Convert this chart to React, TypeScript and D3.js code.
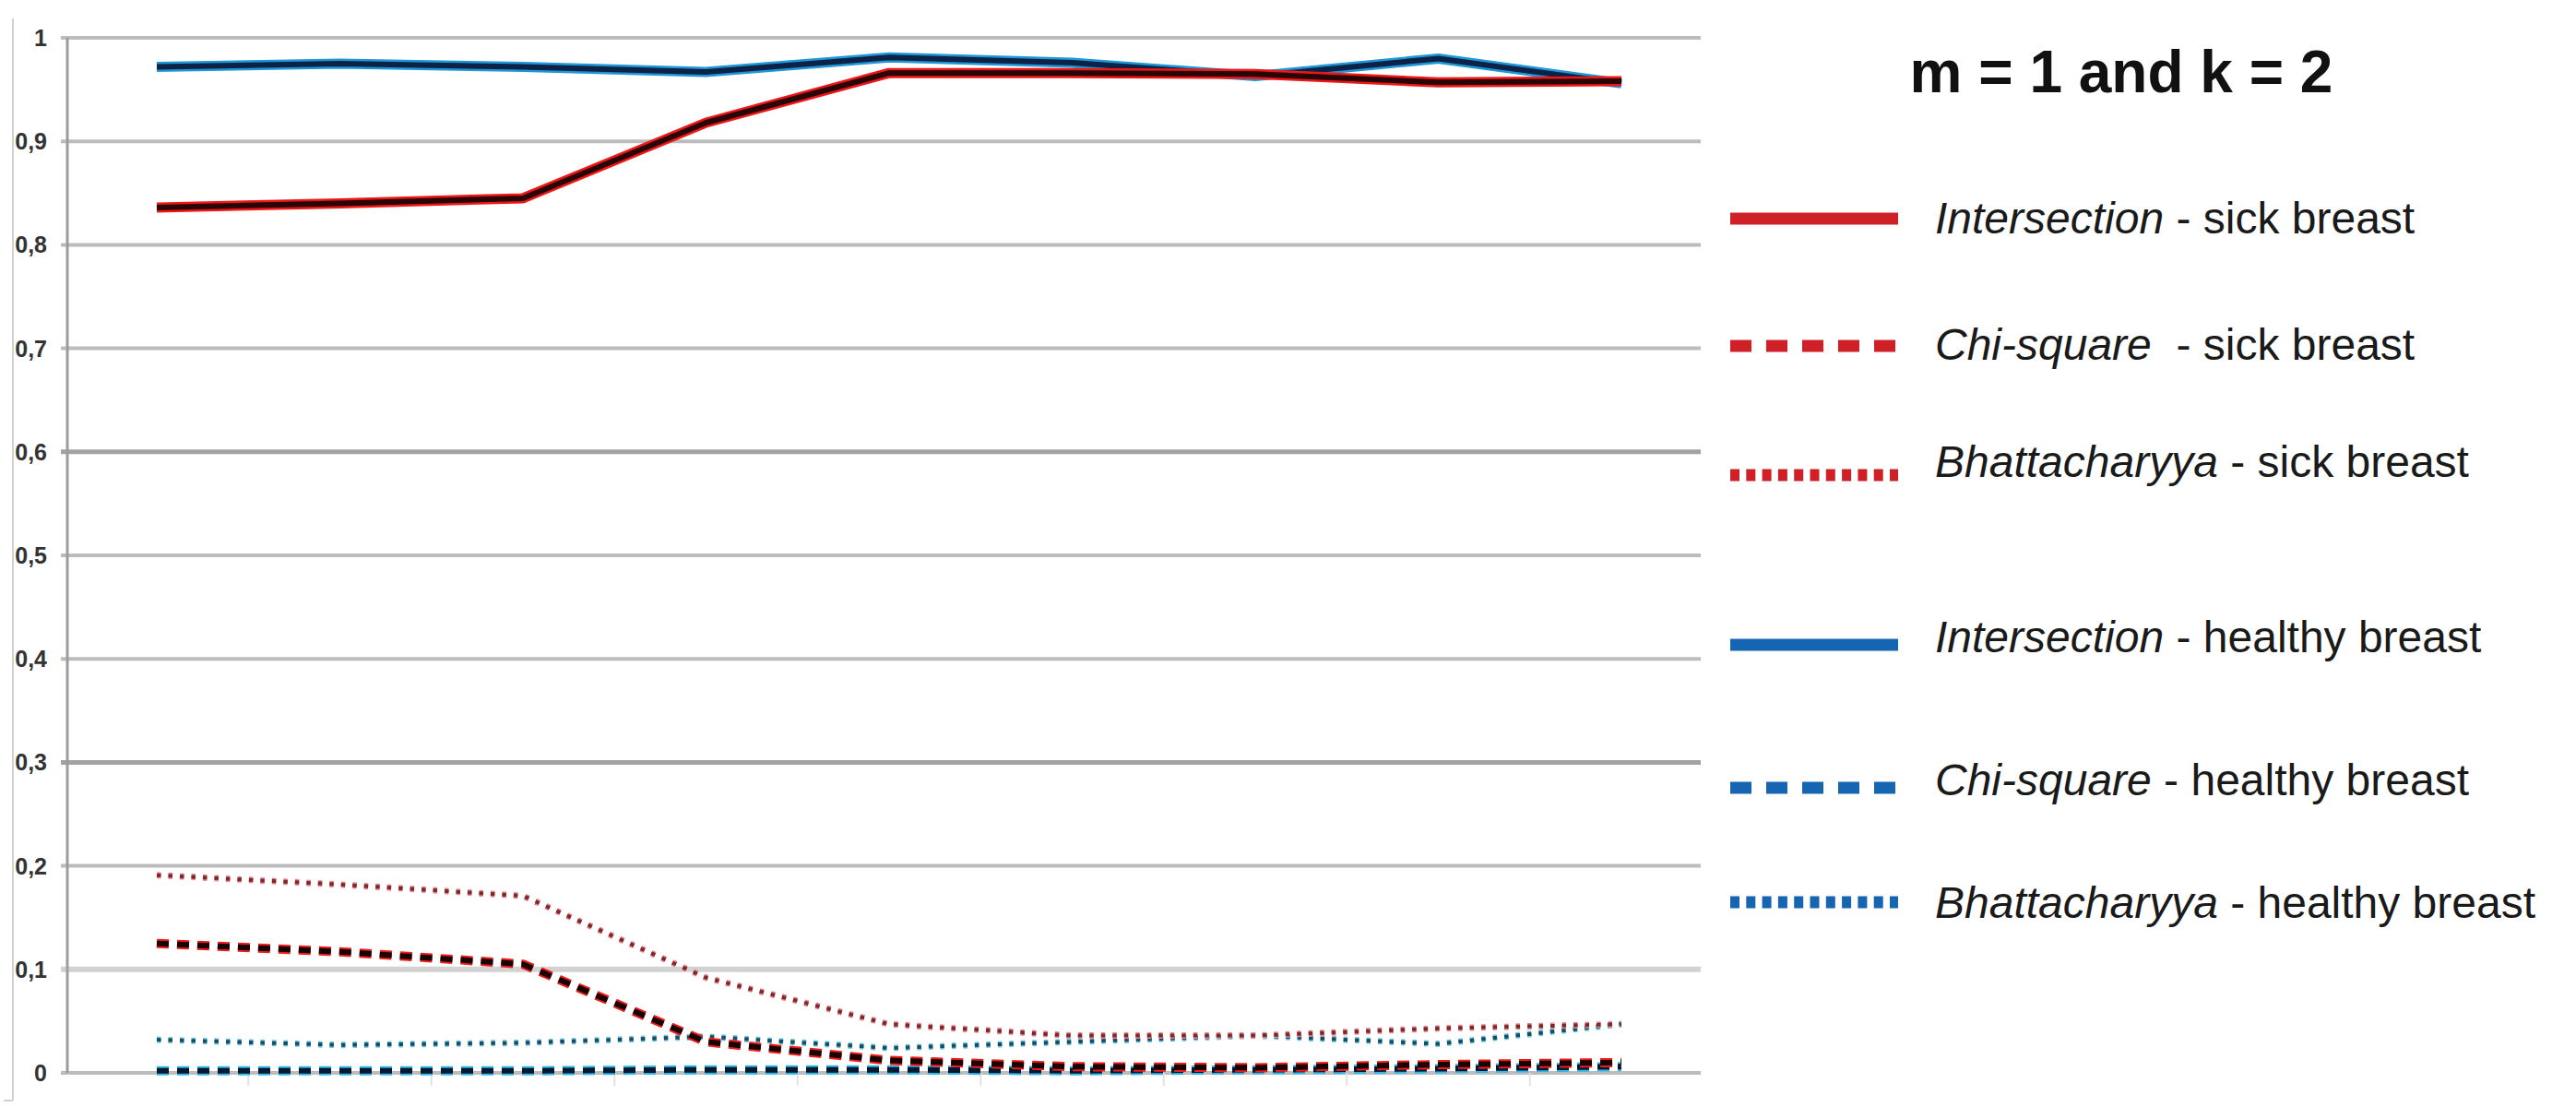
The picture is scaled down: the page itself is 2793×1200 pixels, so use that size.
import React, { useEffect, useRef } from "react";
import * as d3 from "d3";

// x positions (no labels shown on the axis)
const categories = ["1", "2", "3", "4", "5", "6", "7", "8", "9"];

const yTicks = [0, 0.1, 0.2, 0.3, 0.4, 0.5, 0.6, 0.7, 0.8, 0.9, 1];
const yTickLabels = ["0", "0,1", "0,2", "0,3", "0,4", "0,5", "0,6", "0,7", "0,8", "0,9", "1"];

// sick breast
const intersectionSick = [0.836, 0.84, 0.845, 0.918, 0.966, 0.966, 0.965, 0.957, 0.958];
const chiSquareSick = [0.125, 0.117, 0.105, 0.03, 0.012, 0.006, 0.005, 0.008, 0.01];
const bhattacharyyaSick = [0.191, 0.182, 0.171, 0.092, 0.047, 0.036, 0.036, 0.043, 0.047];

// healthy breast
const intersectionHealthy = [0.972, 0.975, 0.972, 0.967, 0.981, 0.976, 0.963, 0.98, 0.956];
const chiSquareHealthy = [0.002, 0.002, 0.002, 0.003, 0.003, 0.002, 0.003, 0.004, 0.006];
const bhattacharyyaHealthy = [0.032, 0.027, 0.029, 0.035, 0.024, 0.03, 0.036, 0.028, 0.047];

const title = "m = 1 and k = 2";
const legendMethods = ["Intersection", "Chi-square", "Bhattacharyya", "Intersection", "Chi-square", "Bhattacharyya"];
const legendSuffixes = [" - sick breast", "  - sick breast", " - sick breast", " - healthy breast", " - healthy breast", " - healthy breast"];

const RED = "#cf2027";
const BLUE = "#1665b3";

const App = () => {
  const ref = useRef<SVGSVGElement>(null);

  useEffect(() => {
    const svg = d3.select(ref.current);
    svg.selectAll("*").remove();

    const x = d3.scalePoint<string>().domain(categories).range([170, 1758]);
    const y = d3.scaleLinear().domain([0, 1]).range([1163, 41]);

    // outer frame edge on the left
    svg.append("line")
      .attr("x1", 14).attr("x2", 14).attr("y1", 20).attr("y2", 1193)
      .attr("stroke", "#d0d0d0").attr("stroke-width", 2);
    svg.append("line")
      .attr("x1", 4).attr("x2", 14).attr("y1", 1193).attr("y2", 1193)
      .attr("stroke", "#d0d0d0").attr("stroke-width", 2);

    // horizontal grid
    svg.append("g")
      .selectAll("line")
      .data(yTicks)
      .enter()
      .append("line")
      .attr("x1", 66)
      .attr("x2", 1844)
      .attr("y1", (d) => y(d))
      .attr("y2", (d) => y(d))
      .attr("stroke", (d) => (d === 0.3 || d === 0.6 ? "#a2a2a2" : d === 0.1 ? "#d2d2d2" : "#bcbcbc"))
      .attr("stroke-width", (d) => (d === 0.3 || d === 0.6 ? 5 : d === 0.1 ? 6 : 4));

    // y axis line
    svg.append("line")
      .attr("x1", 73).attr("x2", 73).attr("y1", y(1)).attr("y2", y(0))
      .attr("stroke", "#9c9c9c").attr("stroke-width", 3);

    // y labels
    svg.append("g")
      .selectAll("text")
      .data(yTicks)
      .enter()
      .append("text")
      .attr("x", 51)
      .attr("y", (d) => y(d))
      .attr("dy", "0.36em")
      .attr("text-anchor", "end")
      .attr("font-family", "Liberation Sans, Arial, sans-serif")
      .attr("font-weight", "bold")
      .attr("font-size", 25)
      .attr("fill", "#333")
      .text((d, i) => yTickLabels[i]);

    // faint category separators under the x axis
    const step = x.step();
    svg.append("g")
      .selectAll("line")
      .data(categories.slice(0, -1))
      .enter()
      .append("line")
      .attr("x1", (d) => (x(d) as number) + step / 2)
      .attr("x2", (d) => (x(d) as number) + step / 2)
      .attr("y1", y(0))
      .attr("y2", y(0) + 14)
      .attr("stroke", "#e2e2e2")
      .attr("stroke-width", 2);

    const line = d3
      .line<number>()
      .x((d, i) => x(categories[i]) as number)
      .y((d) => y(d));

    // each series: colored halo under a dark core (as in the scanned original)
    const series = [
      { values: bhattacharyyaHealthy, halo: "#62cde6", core: "#1f4a66", hw: 7, cw: 4, dash: "4.5 8" },
      { values: chiSquareHealthy, halo: "#2fb8ee", core: "#04192f", hw: 10, cw: 6, dash: "13 9" },
      { values: intersectionHealthy, halo: "#1f97d6", core: "#0c2347", hw: 11, cw: 6, dash: null },
      { values: bhattacharyyaSick, halo: "#f08590", core: "#7a2a2a", hw: 7, cw: 4, dash: "4.5 8" },
      { values: chiSquareSick, halo: "#f01c1c", core: "#180202", hw: 10, cw: 6, dash: "13 9" },
      { values: intersectionSick, halo: "#ee1717", core: "#2a0505", hw: 11, cw: 6, dash: null },
    ];

    const plot = svg.append("g");
    series.forEach((s) => {
      plot.append("path")
        .attr("d", line(s.values))
        .attr("fill", "none")
        .attr("stroke", s.halo)
        .attr("stroke-width", s.hw)
        .attr("stroke-linejoin", "round")
        .attr("stroke-dasharray", s.dash);
      plot.append("path")
        .attr("d", line(s.values))
        .attr("fill", "none")
        .attr("stroke", s.core)
        .attr("stroke-width", s.cw)
        .attr("stroke-linejoin", "round")
        .attr("stroke-dasharray", s.dash);
    });

    // title
    svg.append("text")
      .attr("x", 2300)
      .attr("y", 100)
      .attr("text-anchor", "middle")
      .attr("font-family", "Liberation Sans, Arial, sans-serif")
      .attr("font-weight", "bold")
      .attr("font-size", 64)
      .attr("fill", "#111")
      .text(title);

    // legend
    const lineY = [237, 375, 515, 699, 854, 978];
    const textY = [253, 390, 517, 707, 862, 995];
    const legendDash = [null, "23 16", "10 7.3", null, "23 16", "10 7.3"];

    const legend = svg.append("g");
    legendMethods.forEach((m, i) => {
      legend.append("line")
        .attr("x1", 1876)
        .attr("x2", 2058)
        .attr("y1", lineY[i])
        .attr("y2", lineY[i])
        .attr("stroke", i < 3 ? RED : BLUE)
        .attr("stroke-width", 13)
        .attr("stroke-dasharray", legendDash[i]);

      const t = legend.append("text")
        .attr("x", 2098)
        .attr("y", textY[i])
        .attr("font-family", "Liberation Sans, Arial, sans-serif")
        .attr("font-size", 48)
        .attr("fill", "#1a1a1a")
        .style("white-space", "pre");
      t.append("tspan").attr("font-style", "italic").text(m);
      t.append("tspan").text(legendSuffixes[i]);
    });
  }, []);

  return (
    <svg
      ref={ref}
      width={2793}
      height={1200}
      style={{ position: "absolute", left: 0, top: 0, background: "#fff" }}
    ></svg>
  );
};

export default App;
